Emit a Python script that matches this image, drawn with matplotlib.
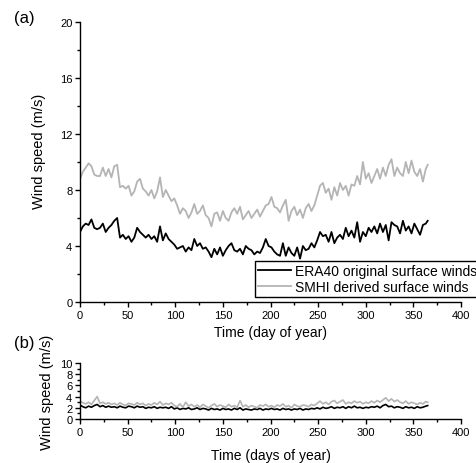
import numpy as np
import matplotlib
matplotlib.use('Agg')
import matplotlib.pyplot as plt
from matplotlib.ticker import MultipleLocator

plt.rcParams['font.family'] = ['Liberation Sans', 'DejaVu Sans']

# day of year, sampled every 3 days
days = list(range(0, 364, 3)) + [365]

# (a) wind speed (m/s)
era40_a = [5.0, 5.4, 5.6, 5.5, 5.9, 5.3, 5.2, 5.3, 5.6, 5.0,
           5.3, 5.5, 5.8, 6.0, 4.6, 4.8, 4.5, 4.7, 4.3, 4.6,
           5.3, 5.0, 4.8, 4.6, 4.8, 4.5, 4.7, 4.3, 5.4, 4.4,
           4.9, 4.5, 4.3, 4.1, 3.8, 3.9, 4.0, 3.6, 3.9, 3.7,
           4.5, 4.0, 4.2, 3.8, 3.9, 3.6, 3.2, 3.8, 3.4, 3.9,
           3.3, 3.7, 4.0, 4.2, 3.7, 3.6, 3.8, 3.4, 4.0, 3.8,
           3.7, 3.4, 3.6, 3.5, 3.9, 4.5, 4.0, 3.9, 3.6, 3.4,
           3.3, 4.2, 3.3, 3.9, 3.5, 3.3, 3.9, 3.1, 4.0, 3.7,
           3.8, 4.2, 3.9, 4.4, 5.0, 4.7, 4.8, 4.3, 5.0, 4.2,
           4.6, 4.8, 4.5, 5.3, 4.7, 5.1, 4.6, 5.7, 4.3, 5.0,
           4.7, 5.3, 5.0, 5.4, 4.9, 5.6, 5.0, 5.5, 4.4, 5.7,
           5.5, 5.4, 4.9, 5.8, 5.1, 5.4, 4.9, 5.6, 5.2, 4.8,
           5.5, 5.6, 5.8]
smhi_a = [8.8, 9.3, 9.6, 9.9, 9.7, 9.1, 9.0, 9.0, 9.6, 9.0,
          9.5, 8.9, 9.7, 9.8, 8.2, 8.3, 8.1, 8.3, 7.6, 7.9,
          8.6, 8.8, 8.1, 7.9, 7.6, 8.0, 7.4, 7.9, 8.9, 7.5,
          8.0, 7.6, 7.2, 7.4, 6.9, 6.3, 6.7, 6.5, 6.0, 6.4,
          7.0, 6.3, 6.5, 6.9, 6.2, 6.0, 5.4, 6.3, 6.4, 5.8,
          6.5, 6.0, 5.8, 6.4, 6.7, 6.3, 6.8, 5.9, 6.2, 6.5,
          6.0, 6.3, 6.6, 6.1, 6.5, 6.9, 7.0, 7.5, 6.8, 6.7,
          6.4, 6.9, 7.3, 5.8, 6.5, 6.8, 6.2, 6.6, 6.0, 6.7,
          7.0, 6.5, 6.9, 7.6, 8.3, 8.5, 7.8, 8.1, 7.3, 8.2,
          7.6, 8.5, 8.0, 8.3, 7.6, 8.4, 8.3, 9.0, 8.4, 10.0,
          8.8, 9.2, 8.5, 9.0, 9.5, 8.8, 9.6, 9.0, 9.8, 10.2,
          9.0, 9.6, 9.2, 9.0, 10.0, 9.2, 10.1, 9.3, 9.0, 9.5,
          8.6, 9.5, 9.8]

# (b) wind speed (m/s)
era40_b = [2.5, 2.2, 2.0, 2.3, 2.1, 2.4, 2.6, 2.2, 2.4, 2.1,
           2.3, 2.1, 2.2, 2.0, 2.3, 2.1, 2.0, 2.3, 2.2, 2.0,
           2.3, 2.1, 2.2, 1.9, 2.1, 2.0, 2.2, 1.9, 2.1, 2.0,
           2.1, 1.9, 2.2, 1.8, 2.0, 1.7, 1.9, 1.8, 2.0, 1.7,
           1.8, 2.0, 1.7, 1.9, 1.8, 1.6, 1.9, 1.7, 1.8, 1.6,
           1.9, 1.7, 1.8, 1.6, 1.9, 1.7, 2.0, 1.6, 1.8, 1.7,
           1.6, 1.8, 1.7, 1.9, 1.6, 1.8, 1.7, 1.9, 1.7, 1.8,
           1.6, 1.9, 1.7, 1.8, 1.6, 1.8, 1.7, 1.9, 1.6, 1.8,
           1.7, 1.9, 1.8, 2.0, 1.8, 2.1, 1.9, 2.0, 2.2, 1.9,
           2.1, 2.0, 2.2, 1.9, 2.2, 2.0, 2.3, 2.0, 2.1, 1.9,
           2.1, 2.0, 2.2, 2.1, 2.3, 2.0, 2.4, 2.6, 2.2, 2.3,
           2.0, 2.2, 2.1, 1.9, 2.2, 2.0, 2.1, 1.9, 2.2, 2.0,
           2.1, 2.3, 2.4]
smhi_b = [3.2, 2.9, 2.7, 3.0, 2.6, 3.3, 4.0, 2.8, 3.0, 2.7,
          2.9, 2.6, 2.8, 2.5, 2.9, 2.6, 2.4, 2.8, 2.7, 2.5,
          2.9, 2.6, 2.8, 2.4, 2.7, 2.5, 2.9, 2.6, 3.1, 2.5,
          2.8, 2.6, 2.9, 2.4, 2.2, 2.7, 2.1, 3.0, 2.3, 2.6,
          2.2, 2.5, 2.1, 2.6, 2.3, 2.0, 2.4, 2.7, 2.2, 2.5,
          2.3, 2.1, 2.6, 2.2, 2.4, 2.1, 3.3, 2.2, 2.5, 2.1,
          2.4, 2.2, 2.0, 2.5, 2.3, 2.6, 2.2, 2.4, 2.1, 2.5,
          2.3, 2.7, 2.2, 2.4, 2.0, 2.6, 2.3, 2.2, 2.5, 2.4,
          2.2, 2.6, 2.4, 2.8, 3.2, 2.7, 3.0, 2.6, 3.1, 3.3,
          2.8, 3.1, 3.4, 2.7, 3.0, 2.8, 3.2, 2.9, 3.1, 2.7,
          3.0, 2.8, 3.2, 2.9, 3.3, 3.0, 3.4, 3.8, 3.2, 3.6,
          3.1, 3.4, 3.0, 2.8, 3.2, 2.7, 3.0, 2.8, 2.6, 2.9,
          2.7, 3.1, 3.0]

gray = '#b4b4b4'

fig = plt.figure(figsize=(4.77, 4.64), dpi=100)
ax1 = fig.add_axes([0.1677, 0.347, 0.7988, 0.6034])
ax2 = fig.add_axes([0.1677, 0.0948, 0.7988, 0.1207])


def style(ax):
    for s in ['top', 'right']:
        ax.spines[s].set_visible(False)
    ax.spines['left'].set_linewidth(1.0)
    ax.spines['bottom'].set_linewidth(1.0)
    ax.set_xlim(0, 400)
    ax.xaxis.set_major_locator(MultipleLocator(50))
    ax.xaxis.set_minor_locator(MultipleLocator(25))
    ax.tick_params(which='major', direction='out', length=3.5, width=1, labelsize=8, pad=2)
    ax.tick_params(which='minor', direction='out', length=2, width=1)


l1, = ax1.plot(days, era40_a, color='black', lw=1.3)
l2, = ax1.plot(days, smhi_a, color=gray, lw=1.3)
style(ax1)
ax1.set_ylim(0, 20)
ax1.yaxis.set_major_locator(MultipleLocator(4))
ax1.yaxis.set_minor_locator(MultipleLocator(2))
ax1.set_xlabel('Time (day of year)', fontsize=10, labelpad=4)
ax1.set_ylabel('Wind speed (m/s)', fontsize=10.5)
ax1.yaxis.set_label_coords(-0.09, 0.54)

fig.legend([l1, l2], ['ERA40 original surface winds', 'SMHI derived surface winds'],
           loc='lower left', bbox_to_anchor=(0.5346, 0.3578), fontsize=10,
           frameon=True, fancybox=False, edgecolor='black', framealpha=1,
           handlelength=2.4, handletextpad=0.3, borderpad=0.2, labelspacing=0.15,
           borderaxespad=0)

ax2.plot(days, era40_b, color='black', lw=1.2)
ax2.plot(days, smhi_b, color=gray, lw=1.2)
style(ax2)
ax2.set_ylim(0, 10)
ax2.yaxis.set_major_locator(MultipleLocator(2))
ax2.yaxis.set_minor_locator(MultipleLocator(1))
ax2.set_xlabel('Time (days of year)', fontsize=10, labelpad=8)
ax2.set_ylabel('Wind speed (m/s)', fontsize=10.5, labelpad=4)

fig.text(0.03, 0.95, '(a)', fontsize=12)
fig.text(0.03, 0.25, '(b)', fontsize=12)

fig.savefig('out.png', dpi=100)
